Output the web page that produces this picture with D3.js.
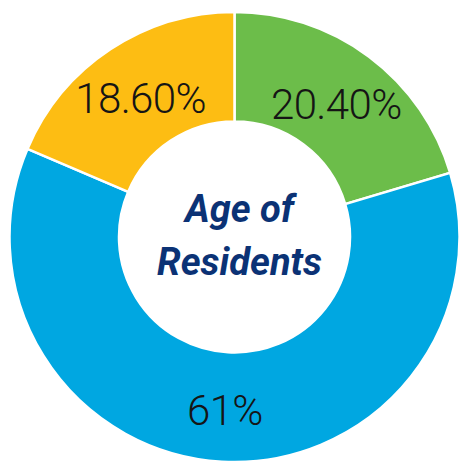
<!DOCTYPE html>
<html>
<head>
<meta charset="utf-8">
<script src="https://cdn.jsdelivr.net/npm/d3@7"></script>
<style>
  html, body { margin: 0; padding: 0; background: #fff; }
  svg { display: block; }
</style>
</head>
<body>
<div id="container"></div>
<script>
/* CONSTANTS AND GLOBALS */
const width = 460,
  height = 461,
  cx = 234.5,
  cy = 237,
  outerR = 225,
  innerR = 115.5;

/* DATA */
const categories = ["Green", "Blue", "Yellow"];
const values = [20.4, 61, 18.6];
const labels = ["20.40%", "61%", "18.60%"];
const colors = ["#6cbd4a", "#00a7e1", "#fdbd13"];
const titleLines = ["Age of", "Residents"];

const data = categories.map((c, i) => ({ cat: c, value: values[i], label: labels[i] }));

// CREATE SVG ELEMENT
const svg = d3.select("#container")
  .append("svg")
  .attr("width", width)
  .attr("height", height);

const g = svg.append("g")
  .attr("transform", `translate(${cx},${cy})`);

// PIE + ARC
const pie = d3.pie()
  .value(d => d.value)
  .sort(null);

const arc = d3.arc()
  .innerRadius(innerR)
  .outerRadius(outerR);

const color = d3.scaleOrdinal()
  .domain(categories)
  .range(colors);

const arcs = pie(data);

g.selectAll(".slice")
  .data(arcs)
  .join("path")
  .attr("class", "slice")
  .attr("d", arc)
  .attr("fill", d => color(d.data.cat))
  .attr("stroke", "#fff")
  .attr("stroke-width", 2.5);

// LABELS
g.selectAll(".label")
  .data(arcs)
  .join("text")
  .attr("class", "label")
  .attr("transform", d => {
    const [x, y] = arc.centroid(d);
    return `translate(${x},${y + 3})`;
  })
  .attr("text-anchor", "middle")
  .attr("dy", "0.36em")
  .attr("font-family", "Roboto, sans-serif")
  .attr("font-weight", 300)
  .attr("font-size", 42)
  .attr("letter-spacing", -0.6)
  .attr("fill", "#151515")
  .text(d => d.data.label);

// CENTER TITLE
g.append("text")
  .attr("text-anchor", "middle")
  .attr("font-family", "Roboto, sans-serif")
  .attr("font-weight", 700)
  .attr("font-style", "italic")
  .attr("font-size", 38)
  .attr("fill", "#0b3275")
  .selectAll("tspan")
  .data(titleLines)
  .join("tspan")
  .attr("x", 5)
  .attr("y", (d, i) => -15 + i * 53)
  .text(d => d);
</script>
</body>
</html>
